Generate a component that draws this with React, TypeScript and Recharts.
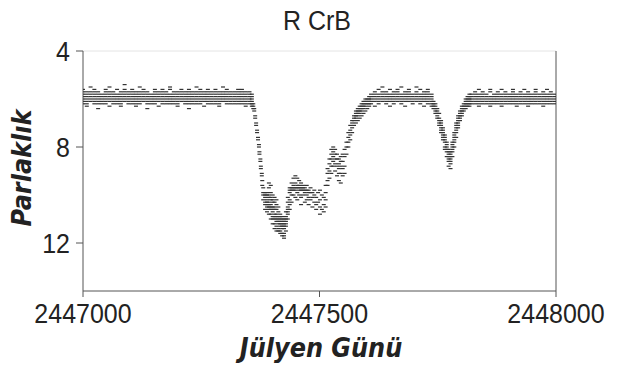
import React from "react";
import { ScatterChart, Scatter, XAxis, YAxis, ReferenceLine } from "recharts";

// Julian Day offset (days since JD 2447000) and the magnitudes observed near that day
const JD0 = 2447000;

const baselineEarly: number[][] = [
  [0, 5.6, 5.7, 5.8, 5.9, 6.0, 6.1, 6.2],
  [8, 5.7, 5.8, 5.9, 6.0, 6.1, 6.2, 6.3],
  [16, 5.5, 5.7, 5.8, 5.9, 6.0, 6.1],
  [24, 5.6, 5.7, 5.8, 5.9, 6.0, 6.1, 6.2],
  [32, 5.7, 5.8, 5.9, 6.0, 6.1, 6.2, 6.4],
  [40, 5.8, 5.9, 6.0, 6.1, 6.2],
  [48, 5.6, 5.7, 5.8, 5.9, 6.0, 6.1, 6.2],
  [56, 5.5, 5.7, 5.8, 5.9, 6.0, 6.1, 6.3],
  [64, 5.7, 5.8, 5.9, 6.0, 6.1, 6.2],
  [72, 5.6, 5.8, 5.9, 6.0, 6.1, 6.2],
  [80, 5.7, 5.8, 5.9, 6.0, 6.1, 6.2, 6.3],
  [88, 5.4, 5.6, 5.7, 5.8, 5.9, 6.0, 6.1],
  [96, 5.7, 5.8, 5.9, 6.0, 6.1, 6.2],
  [104, 5.6, 5.7, 5.8, 5.9, 6.0, 6.1, 6.2],
  [112, 5.7, 5.8, 5.9, 6.0, 6.1, 6.2, 6.3],
  [120, 5.5, 5.7, 5.8, 5.9, 6.0, 6.1, 6.2],
  [128, 5.6, 5.7, 5.8, 5.9, 6.0, 6.1],
  [136, 5.7, 5.8, 5.9, 6.0, 6.1, 6.2, 6.4],
  [144, 5.8, 5.9, 6.0, 6.1, 6.2],
  [152, 5.6, 5.7, 5.8, 5.9, 6.0, 6.1, 6.2],
  [160, 5.7, 5.8, 5.9, 6.0, 6.1, 6.3],
  [168, 5.6, 5.7, 5.8, 5.9, 6.0, 6.1, 6.2],
  [176, 5.7, 5.8, 5.9, 6.0, 6.1, 6.2],
  [184, 5.5, 5.6, 5.8, 5.9, 6.0, 6.1, 6.2],
  [192, 5.7, 5.8, 5.9, 6.0, 6.1, 6.2],
  [200, 5.7, 5.8, 5.9, 6.0, 6.1, 6.2, 6.3],
  [208, 5.6, 5.7, 5.8, 5.9, 6.0, 6.1],
  [216, 5.7, 5.8, 5.9, 6.0, 6.1, 6.2],
  [224, 5.6, 5.7, 5.8, 5.9, 6.0, 6.1, 6.2, 6.4],
  [232, 5.7, 5.8, 5.9, 6.0, 6.1, 6.2],
  [240, 5.5, 5.7, 5.8, 5.9, 6.0, 6.1, 6.2],
  [248, 5.6, 5.7, 5.8, 5.9, 6.0, 6.1, 6.2],
  [256, 5.7, 5.8, 5.9, 6.0, 6.1, 6.3],
  [264, 5.6, 5.7, 5.8, 5.9, 6.0, 6.1, 6.2],
  [272, 5.7, 5.8, 5.9, 6.0, 6.1, 6.2],
  [280, 5.6, 5.7, 5.8, 5.9, 6.0, 6.1, 6.2],
  [288, 5.7, 5.8, 5.9, 6.0, 6.1, 6.2, 6.3],
  [296, 5.5, 5.7, 5.8, 5.9, 6.0, 6.1],
  [304, 5.6, 5.7, 5.8, 5.9, 6.0, 6.1, 6.2],
  [312, 5.7, 5.8, 5.9, 6.0, 6.1, 6.2],
  [320, 5.7, 5.8, 5.9, 6.0, 6.1, 6.2],
  [328, 5.6, 5.7, 5.8, 5.9, 6.0, 6.1, 6.2],
  [336, 5.6, 5.7, 5.8, 5.9, 6.0, 6.1, 6.2],
  [344, 5.7, 5.8, 5.9, 6.0, 6.1, 6.2, 6.3],
  [352, 5.7, 5.8, 5.9, 6.0, 6.1, 6.2],
  [357, 5.8, 5.9, 6.0, 6.1, 6.2, 6.3],
];

const firstDecline: number[][] = [
  [360, 6.2, 6.3, 6.4],
  [362, 6.4, 6.5],
  [364, 6.7, 6.8],
  [366, 7.0, 7.1],
  [368, 7.3, 7.4],
  [370, 7.6, 7.7],
  [372, 7.9, 8.0],
  [373, 8.2, 8.3],
  [375, 8.5, 8.6],
  [376, 8.8, 8.9],
  [378, 9.1, 9.2],
  [379, 9.4, 9.6],
];

const deepMinimum: number[][] = [
  [381, 9.7, 9.9, 10.0, 10.2],
  [385, 9.9, 10.0, 10.1, 10.3, 10.4, 10.6],
  [389, 9.9, 10.0, 10.2, 10.3, 10.4, 10.5, 10.7],
  [393, 9.5, 9.7, 10.0, 10.1, 10.3, 10.4, 10.5, 10.6, 10.8],
  [397, 9.6, 9.9, 10.1, 10.2, 10.4, 10.5, 10.6, 10.8, 11.0],
  [401, 10.0, 10.2, 10.3, 10.5, 10.6, 10.7, 10.9, 11.0, 11.2],
  [405, 10.1, 10.3, 10.5, 10.6, 10.8, 10.9, 11.0, 11.2, 11.4],
  [409, 10.2, 10.4, 10.6, 10.8, 10.9, 11.0, 11.1, 11.3, 11.5],
  [413, 10.5, 10.7, 10.9, 11.0, 11.1, 11.2, 11.4, 11.5],
  [417, 10.8, 10.9, 11.0, 11.1, 11.2, 11.3, 11.5, 11.6],
  [421, 10.9, 11.0, 11.1, 11.2, 11.3, 11.4, 11.6, 11.7],
  [425, 11.0, 11.1, 11.2, 11.3, 11.4, 11.6, 11.7, 11.8],
  [429, 10.7, 10.9, 11.0, 11.1, 11.2, 11.3, 11.5],
  [433, 10.1, 10.3, 10.5, 10.6, 10.7, 10.8, 11.0],
];

const hump: number[][] = [
  [437, 9.7, 9.8, 9.9, 10.2, 10.4, 10.6],
  [441, 9.5, 9.7, 9.8, 10.0, 10.3],
  [445, 9.3, 9.6, 9.7, 9.8, 10.0],
  [449, 9.2, 9.5, 9.7, 9.8, 10.1],
  [453, 9.3, 9.6, 9.7, 9.9, 10.2],
  [457, 9.4, 9.6, 9.7, 9.8, 10.0],
  [461, 9.5, 9.7, 9.8, 10.1, 10.4],
  [465, 9.6, 9.7, 9.8, 10.0],
  [469, 9.7, 9.8, 9.9, 10.3],
  [473, 9.6, 9.8, 10.0, 10.2],
  [477, 9.8, 9.9, 10.1, 10.4],
  [481, 9.7, 9.9, 10.2],
  [485, 9.9, 10.1, 10.5],
  [489, 9.8, 10.0, 10.3],
  [493, 10.1, 10.4, 10.6],
  [497, 9.9, 10.3],
  [501, 9.8, 10.2, 10.5, 10.8],
  [505, 10.0, 10.6],
  [509, 10.1, 10.4, 10.7],
  [513, 9.6, 9.9, 10.2, 10.5],
];

const recovery: number[][] = [
  [517, 8.9, 9.1, 9.4, 9.6],
  [521, 8.5, 8.7, 9.0, 9.3],
  [525, 8.1, 8.3, 8.5, 8.8, 9.1],
  [529, 8.0, 8.2, 8.4, 8.6, 8.8],
  [533, 8.1, 8.3, 8.5, 8.7, 9.0],
  [537, 8.3, 8.5, 8.8, 9.2],
  [541, 8.5, 8.7, 8.9, 9.1, 9.4],
  [545, 8.4, 8.6, 8.8, 9.1, 9.5],
  [549, 8.3, 8.6, 8.9, 9.2],
  [553, 8.1, 8.4, 8.8, 9.1],
  [557, 7.8, 8.0, 8.3],
  [561, 7.4, 7.6, 7.8, 8.0],
  [565, 7.1, 7.3, 7.5, 7.7],
  [569, 6.9, 7.0, 7.2, 7.4],
  [573, 6.7, 6.8, 6.9, 7.1],
  [577, 6.5, 6.6, 6.7, 6.8, 7.0],
  [581, 6.4, 6.5, 6.6, 6.7, 6.9],
  [585, 6.3, 6.4, 6.5, 6.6, 6.8],
  [589, 6.2, 6.3, 6.4, 6.5, 6.7],
  [593, 6.1, 6.2, 6.3, 6.4, 6.6],
  [597, 6.0, 6.1, 6.2, 6.3, 6.5],
  [601, 6.0, 6.1, 6.2, 6.4],
  [605, 5.9, 6.0, 6.1, 6.2, 6.3],
];

const baselineMiddle: number[][] = [
  [609, 5.8, 5.9, 6.0, 6.1, 6.2],
  [617, 5.7, 5.8, 5.9, 6.0, 6.1, 6.3],
  [625, 5.6, 5.8, 5.9, 6.0, 6.1, 6.2],
  [633, 5.5, 5.7, 5.8, 5.9, 6.0, 6.1],
  [641, 5.7, 5.8, 5.9, 6.0, 6.1, 6.2],
  [649, 5.6, 5.8, 5.9, 6.0, 6.1, 6.3],
  [657, 5.7, 5.8, 5.9, 6.0, 6.1, 6.2],
  [665, 5.6, 5.7, 5.8, 5.9, 6.0, 6.1],
  [673, 5.5, 5.8, 5.9, 6.0, 6.1, 6.2],
  [681, 5.7, 5.8, 5.9, 6.0, 6.1, 6.3],
  [689, 5.6, 5.7, 5.8, 5.9, 6.0, 6.1],
  [697, 5.8, 5.9, 6.0, 6.1, 6.2],
  [705, 5.5, 5.7, 5.8, 5.9, 6.0, 6.1],
  [713, 5.6, 5.8, 5.9, 6.0, 6.1, 6.2],
  [721, 5.7, 5.8, 5.9, 6.0, 6.1, 6.3],
  [729, 5.6, 5.7, 5.8, 5.9, 6.0, 6.1, 6.2],
  [737, 5.8, 5.9, 6.0, 6.1, 6.2, 6.3],
];

const secondDip: number[][] = [
  [741, 6.1, 6.2, 6.3, 6.4],
  [745, 6.2, 6.3, 6.4, 6.5, 6.6],
  [749, 6.4, 6.5, 6.6, 6.7, 6.8],
  [753, 6.6, 6.8, 6.9, 7.0, 7.1],
  [757, 6.9, 7.0, 7.1, 7.2, 7.3, 7.4],
  [761, 7.2, 7.3, 7.4, 7.5, 7.6, 7.7],
  [765, 7.5, 7.6, 7.7, 7.8, 8.0, 8.1],
  [769, 7.8, 7.9, 8.0, 8.1, 8.2, 8.4],
  [773, 8.1, 8.2, 8.3, 8.4, 8.5, 8.6, 8.8],
  [777, 8.2, 8.3, 8.4, 8.5, 8.6, 8.7, 8.9],
  [781, 7.8, 7.9, 8.0, 8.1, 8.2, 8.4],
  [785, 7.4, 7.5, 7.6, 7.7, 7.8, 8.0],
  [789, 7.0, 7.1, 7.2, 7.3, 7.4, 7.6],
  [793, 6.7, 6.8, 6.9, 7.0, 7.1, 7.2],
  [797, 6.5, 6.6, 6.7, 6.8, 6.9],
  [801, 6.3, 6.4, 6.5, 6.6, 6.7],
  [805, 6.2, 6.3, 6.4, 6.5],
  [809, 6.0, 6.1, 6.2, 6.3, 6.4],
  [813, 5.9, 6.0, 6.1, 6.2, 6.3],
  [817, 5.8, 5.9, 6.0, 6.1, 6.2, 6.3],
];

const baselineLate: number[][] = [
  [821, 5.8, 5.9, 6.0, 6.1, 6.2],
  [829, 5.7, 5.8, 5.9, 6.0, 6.1, 6.2],
  [837, 5.6, 5.8, 5.9, 6.0, 6.1, 6.2, 6.3],
  [845, 5.7, 5.8, 5.9, 6.0, 6.1, 6.2],
  [853, 5.8, 5.9, 6.0, 6.1, 6.2],
  [861, 5.6, 5.7, 5.9, 6.0, 6.1, 6.2, 6.3],
  [869, 5.8, 5.9, 6.0, 6.1, 6.2],
  [877, 5.7, 5.8, 5.9, 6.0, 6.1, 6.2],
  [885, 5.6, 5.8, 5.9, 6.0, 6.1, 6.2, 6.3],
  [893, 5.7, 5.8, 5.9, 6.0, 6.1, 6.2],
  [901, 5.8, 5.9, 6.0, 6.1, 6.2],
  [909, 5.6, 5.7, 5.8, 5.9, 6.0, 6.1, 6.2],
  [917, 5.8, 5.9, 6.0, 6.1, 6.2, 6.3],
  [925, 5.7, 5.8, 5.9, 6.0, 6.1, 6.2],
  [933, 5.6, 5.8, 5.9, 6.0, 6.1, 6.2],
  [941, 5.7, 5.8, 5.9, 6.0, 6.1, 6.2, 6.3],
  [949, 5.8, 5.9, 6.0, 6.1, 6.2],
  [957, 5.6, 5.7, 5.8, 5.9, 6.0, 6.1, 6.2],
  [965, 5.8, 5.9, 6.0, 6.1, 6.2],
  [973, 5.7, 5.8, 5.9, 6.0, 6.1, 6.2, 6.3],
  [981, 5.6, 5.8, 5.9, 6.0, 6.1, 6.2],
  [989, 5.7, 5.8, 5.9, 6.0, 6.1, 6.2],
  [997, 5.8, 5.9, 6.0, 6.1, 6.2],
];

const xTicks = [2447000, 2447500, 2448000];
const yTicks = [4, 8, 12];

const allColumns = [
  ...baselineEarly,
  ...firstDecline,
  ...deepMinimum,
  ...hump,
  ...recovery,
  ...baselineMiddle,
  ...secondDip,
  ...baselineLate,
];

const points = allColumns.flatMap((col) =>
  col.slice(1).map((m) => ({ x: JD0 + col[0], y: m }))
);

const Dash = (props: any) => {
  const { cx, cy } = props;
  if (cx == null || cy == null) return null;
  return <rect x={cx - 2} y={cy - 0.6} width={4} height={1.2} fill="#333" />;
};

const FONT = "Liberation Sans, Arial, sans-serif";
const STRETCH = 1.12;

const XTick = (props: any) => {
  const { x, y, payload } = props;
  return (
    <text
      transform={`translate(${x},${y}) scale(1,${STRETCH})`}
      textAnchor="middle"
      dy="0.71em"
      fontFamily={FONT}
      fontSize={25}
      fill="#222"
    >
      {payload.value}
    </text>
  );
};

const YTick = (props: any) => {
  const { x, y, payload } = props;
  return (
    <text
      transform={`translate(${x},${y}) scale(1,${STRETCH})`}
      textAnchor="end"
      dy="0.355em"
      fontFamily={FONT}
      fontSize={25}
      fill="#222"
    >
      {payload.value}
    </text>
  );
};

export default function App() {
  return (
    <div style={{ position: "absolute", left: 0, top: 0, width: 637, height: 366, background: "#fff" }}>
      <ScatterChart width={637} height={366} margin={{ top: 51, right: 81, bottom: 0, left: 0 }}>
        <XAxis
          type="number"
          dataKey="x"
          domain={[2447000, 2448000]}
          ticks={xTicks}
          allowDataOverflow
          height={75}
          tick={<XTick />}
          tickSize={6}
          tickMargin={6}
          axisLine={{ stroke: "#555" }}
          tickLine={{ stroke: "#555" }}
        />
        <YAxis
          type="number"
          dataKey="y"
          reversed
          domain={[4, 14]}
          ticks={yTicks}
          allowDataOverflow
          width={83}
          tick={<YTick />}
          tickSize={7}
          tickMargin={6}
          axisLine={{ stroke: "#555" }}
          tickLine={{ stroke: "#555" }}
        />
        <ReferenceLine y={4} stroke="#e4e4e4" />
        <ReferenceLine x={2448000} stroke="#555" />
        <Scatter data={points} isAnimationActive={false} shape={Dash} />
      </ScatterChart>
      <svg width={637} height={366} style={{ position: "absolute", left: 0, top: 0, pointerEvents: "none" }}>
        <text
          transform={`translate(317,30) scale(1,${STRETCH})`}
          textAnchor="middle"
          fontFamily={FONT}
          fontSize={25}
          fill="#222"
        >
          R CrB
        </text>
        <text
          transform={`translate(321,357) scale(1,${STRETCH})`}
          textAnchor="middle"
          fontFamily="DejaVu Sans, Verdana, sans-serif"
          fontWeight="bold"
          fontStyle="italic"
          fontSize={24}
          fill="#222"
        >
          Jülyen Günü
        </text>
        <text
          transform={`translate(31,168) rotate(-90) scale(1,${STRETCH})`}
          textAnchor="middle"
          fontFamily="DejaVu Sans, Verdana, sans-serif"
          fontWeight="bold"
          fontStyle="italic"
          fontSize={24}
          fill="#222"
        >
          Parlaklık
        </text>
      </svg>
    </div>
  );
}
